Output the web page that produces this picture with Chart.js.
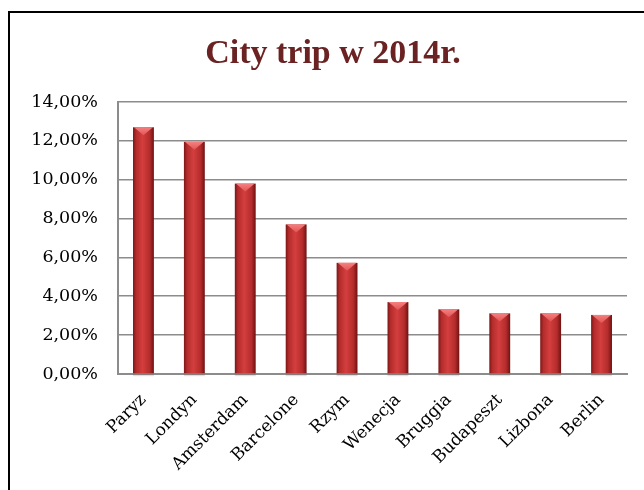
<!DOCTYPE html>
<html>
<head>
<meta charset="utf-8">
<script src="https://cdn.jsdelivr.net/npm/chart.js@4.4.1/dist/chart.umd.min.js"></script>
<style>
    html, body { margin: 0; padding: 0; background: #fff; overflow: hidden; }
    #wrap { position: relative; width: 644px; height: 490px; }
    #frame {
        position: absolute; left: 8px; top: 11px; width: 700px; height: 600px;
        border-top: 2px solid #000; border-left: 2px solid #000;
    }
    #cityChart { position: absolute; left: 0; top: 0; }
    #chartTitle {
        position: absolute; left: 0; top: 32px; width: 666px;
        text-align: center; line-height: 40px;
        font-family: "Liberation Serif", serif; font-size: 34px; font-weight: bold;
        color: #6b2222;
    }
</style>
</head>
<body>
<div id="wrap">
    <div id="frame"></div>
    <canvas id="cityChart" width="644" height="490"></canvas>
    <div id="chartTitle">City trip w 2014r.</div>
</div>
<script>
// City trip destinations, share of trips (%)
const cities = ['Paryz', 'Londyn', 'Amsterdam', 'Barcelone', 'Rzym', 'Wenecja', 'Bruggia', 'Budapeszt', 'Lizbona', 'Berlin'];
const shares = [12.7, 11.95, 9.8, 7.7, 5.72, 3.7, 3.33, 3.12, 3.12, 3.04];
const yMax = 14;
const yStep = 2;

const serif = '"DejaVu Serif", "Liberation Serif", serif';

// Paints each bar as a shaded column with a small pyramid cap
const columnBars = {
    id: 'columnBars',
    afterDatasetsDraw(chart) {
        const ctx = chart.ctx;
        const meta = chart.getDatasetMeta(0);
        meta.data.forEach(bar => {
            const w = bar.width;
            const left = bar.x - w / 2;
            const top = bar.y;
            const bottom = bar.base;

            ctx.save();
            // soft shadow under the column
            ctx.fillStyle = 'rgba(120, 60, 60, 0.18)';
            ctx.fillRect(left, bottom - 1, w, 4);

            const g = ctx.createLinearGradient(left, 0, left + w, 0);
            g.addColorStop(0, '#7d1616');
            g.addColorStop(0.15, '#b42c2c');
            g.addColorStop(0.45, '#d43e3e');
            g.addColorStop(0.8, '#b42c2c');
            g.addColorStop(1, '#6e1212');
            ctx.fillStyle = g;
            ctx.fillRect(left, top, w, bottom - top);

            // pyramid cap
            const capH = Math.min(8, bottom - top);
            ctx.beginPath();
            ctx.moveTo(left + 1, top);
            ctx.lineTo(left + w - 1, top);
            ctx.lineTo(bar.x, top + capH);
            ctx.closePath();
            const cg = ctx.createLinearGradient(0, top, 0, top + capH);
            cg.addColorStop(0, '#f58080');
            cg.addColorStop(1, '#e25454');
            ctx.fillStyle = cg;
            ctx.fill();
            ctx.restore();
        });
    }
};

const ctx = document.getElementById('cityChart').getContext('2d');

new Chart(ctx, {
    type: 'bar',
    data: {
        labels: cities,
        datasets: [{
            data: shares,
            backgroundColor: 'rgba(0,0,0,0)',
            borderWidth: 0,
            barPercentage: 0.82,
            categoryPercentage: 0.5
        }]
    },
    options: {
        responsive: false,
        animation: false,
        layout: {
            padding: { left: 0, right: 17, top: 102, bottom: 0 }
        },
        plugins: {
            legend: { display: false },
            tooltip: { enabled: false },
            title: { display: false }
        },
        scales: {
            y: {
                min: 0,
                max: yMax,
                afterFit: scale => { scale.width = 118; },
                ticks: {
                    stepSize: yStep,
                    padding: 20,
                    color: '#000',
                    font: { family: serif, size: 17.5 },
                    callback: v => v.toFixed(2).replace('.', ',') + '%'
                },
                grid: {
                    color: '#8c8c8c',
                    lineWidth: 1.6,
                    drawTicks: false
                },
                border: { color: '#8c8c8c', width: 2 }
            },
            x: {
                afterFit: scale => { scale.height = 116; },
                ticks: {
                    minRotation: 45,
                    maxRotation: 45,
                    padding: 16,
                    color: '#000',
                    font: { family: serif, size: 17 }
                },
                grid: { display: false, drawTicks: false },
                border: { color: '#8c8c8c', width: 2 }
            }
        }
    },
    plugins: [columnBars]
});
</script>
</body>
</html>
